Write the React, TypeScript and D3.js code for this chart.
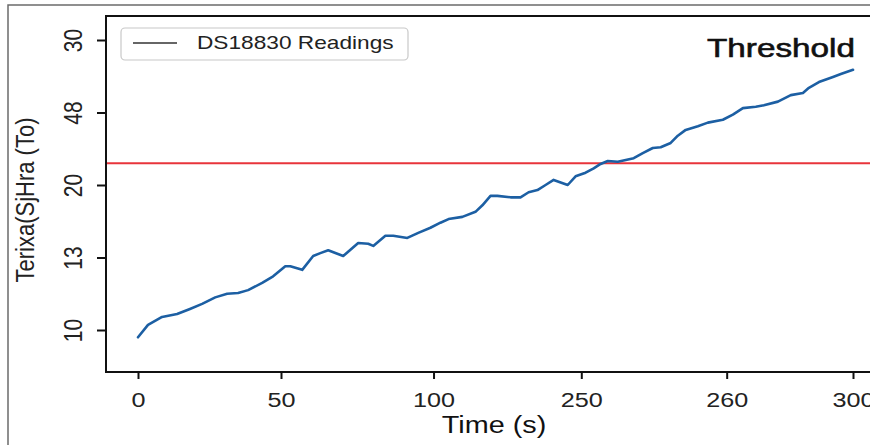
import React, { useEffect, useRef } from "react";
import * as d3 from "d3";

// readings (time in s, sensor value)
const timeSec = [
  0, 4.2, 10.1, 16.4, 21.8, 26.9, 32.4, 37.4, 42.0, 46.2, 52.1, 56.7, 61.8, 63.9,
  68.9, 73.5, 76.5, 79.8, 86.1, 92.4, 96.6, 98.7, 103.8, 107.1, 113.0, 117.6,
  122.7, 126.9, 130.3, 136.1, 141.6, 144.5, 147.9, 150.8, 156.3, 160.5, 163.9,
  167.6, 171.0, 174.4, 180.3, 183.6, 187.8, 191.2, 194.1, 197.1, 201.3, 208.0,
  211.8, 216.0, 219.3, 223.5, 226.5, 229.8, 234.9, 239.1, 245.4, 249.6, 253.8,
  259.2, 262.6, 268.5, 273.9, 279.0, 281.5, 285.7, 291.6, 294.9, 300,
];
const readings = [
  9.0, 10.7, 11.8, 12.2, 12.9, 13.6, 14.5, 15.0, 15.1, 15.5, 16.5, 17.4, 18.8, 18.8,
  18.3, 20.2, 20.6, 21.0, 20.2, 22.0, 21.9, 21.6, 23.0, 23.0, 22.7, 23.4,
  24.1, 24.8, 25.3, 25.6, 26.3, 27.2, 28.5, 28.5, 28.3, 28.3, 29.0,
  29.3, 30.0, 30.7, 30.0, 31.2, 31.7, 32.3, 32.9, 33.3, 33.2, 33.7,
  34.4, 35.1, 35.2, 35.8, 36.8, 37.6, 38.1, 38.6, 39.0, 39.7, 40.6,
  40.8, 41.0, 41.5, 42.4, 42.7, 43.4, 44.2, 44.9, 45.3, 45.9,
];
const threshold = 33;

const xTickValues = [0, 60, 124, 186, 247, 300];
const xTickLabels = ["0", "50", "100", "250", "260", "300"];
const yTickValues = [10, 20, 30, 40, 50];
const yTickLabels = ["10", "13", "20", "48", "30"];

const FONT = "'Liberation Sans', Arial, sans-serif";

function Chart() {
  const ref = useRef<SVGSVGElement>(null);

  useEffect(() => {
    const svg = d3.select(ref.current);
    svg.selectAll("*").remove();

    const W = 870, H = 445;
    const left = 106, top = 16, bottom = 372;

    const x = d3.scaleLinear().domain([0, 300]).range([138, 853]);
    const y = d3.scaleLinear().domain([10, 50]).range([330, 40]);

    svg.append("rect").attr("width", W).attr("height", H).attr("fill", "#fff");

    // outer frame of the figure
    svg
      .append("path")
      .attr("d", `M8,${H} V5 H${W}`)
      .attr("fill", "none")
      .attr("stroke", "#6b6b6b")
      .attr("stroke-width", 1.5);

    // threshold
    svg
      .append("line")
      .attr("x1", left)
      .attr("x2", W)
      .attr("y1", y(threshold))
      .attr("y2", y(threshold))
      .attr("stroke", "#e8343b")
      .attr("stroke-width", 2);

    const line = d3
      .line<number>()
      .x((d, i) => x(timeSec[i]))
      .y((d) => y(d));

    svg
      .append("path")
      .datum(readings)
      .attr("d", line)
      .attr("fill", "none")
      .attr("stroke", "#1c5fa3")
      .attr("stroke-width", 2.6)
      .attr("stroke-linejoin", "round")
      .attr("stroke-linecap", "round");

    // spines
    svg
      .append("path")
      .attr("d", `M${W},${top} H${left} V${bottom} H${W}`)
      .attr("fill", "none")
      .attr("stroke", "#111")
      .attr("stroke-width", 2);

    // x axis
    const gx = svg
      .append("g")
      .attr("transform", `translate(0, ${bottom})`)
      .call(
        d3
          .axisBottom(x)
          .tickValues(xTickValues)
          .tickSize(7)
          .tickFormat((d, i) => xTickLabels[i])
      );
    gx.select(".domain").remove();
    gx.selectAll("line").attr("stroke", "#111").attr("stroke-width", 2);
    gx.selectAll("text")
      .attr("y", 0)
      .attr("dy", 0)
      .attr("transform", "translate(0, 35) scale(1.2, 1)")
      .attr("fill", "#222")
      .style("font-family", FONT)
      .style("font-size", "21px");

    // y axis
    const gy = svg
      .append("g")
      .attr("transform", `translate(${left}, 0)`)
      .call(
        d3
          .axisLeft(y)
          .tickValues(yTickValues)
          .tickSize(9)
          .tickFormat((d, i) => yTickLabels[i])
      );
    gy.select(".domain").remove();
    gy.selectAll("line").attr("stroke", "#111").attr("stroke-width", 2);
    gy.selectAll("text")
      .attr("x", 0)
      .attr("dy", 0)
      .attr("text-anchor", "middle")
      .attr("transform", "translate(-24, 0) scale(1.2, 1) rotate(-90)")
      .attr("fill", "#222")
      .style("font-family", FONT)
      .style("font-size", "21px");

    // axis titles
    svg
      .append("text")
      .attr("transform", "translate(494, 433) scale(1.2, 1)")
      .attr("text-anchor", "middle")
      .attr("fill", "#111")
      .style("font-family", FONT)
      .style("font-size", "24px")
      .text("Time (s)");

    svg
      .append("text")
      .attr("transform", "translate(34, 200) scale(1.2, 1) rotate(-90)")
      .attr("text-anchor", "middle")
      .attr("fill", "#222")
      .style("font-family", FONT)
      .style("font-size", "22px")
      .text("Terixa(SjHra (To)");

    // legend
    svg
      .append("rect")
      .attr("x", 121)
      .attr("y", 28)
      .attr("width", 287)
      .attr("height", 32)
      .attr("rx", 4)
      .attr("fill", "#fff")
      .attr("stroke", "#c8c8c8")
      .attr("stroke-width", 1.2);
    svg
      .append("line")
      .attr("x1", 133)
      .attr("x2", 177)
      .attr("y1", 43)
      .attr("y2", 43)
      .attr("stroke", "#333")
      .attr("stroke-width", 1.3);
    svg
      .append("text")
      .attr("transform", "translate(197, 49) scale(1.26, 1)")
      .attr("fill", "#222")
      .style("font-family", FONT)
      .style("font-size", "18px")
      .text("DS18830 Readings");

    svg
      .append("text")
      .attr("transform", "translate(707, 57) scale(1.28, 1)")
      .attr("fill", "#111")
      .attr("stroke", "#111")
      .attr("stroke-width", 0.6)
      .style("font-family", FONT)
      .style("font-size", "26px")
      .text("Threshold");
  }, []);

  return <svg ref={ref} width={870} height={445} style={{ position: "absolute", left: 0, top: 0 }} />;
}

export default function App() {
  return <Chart />;
}
